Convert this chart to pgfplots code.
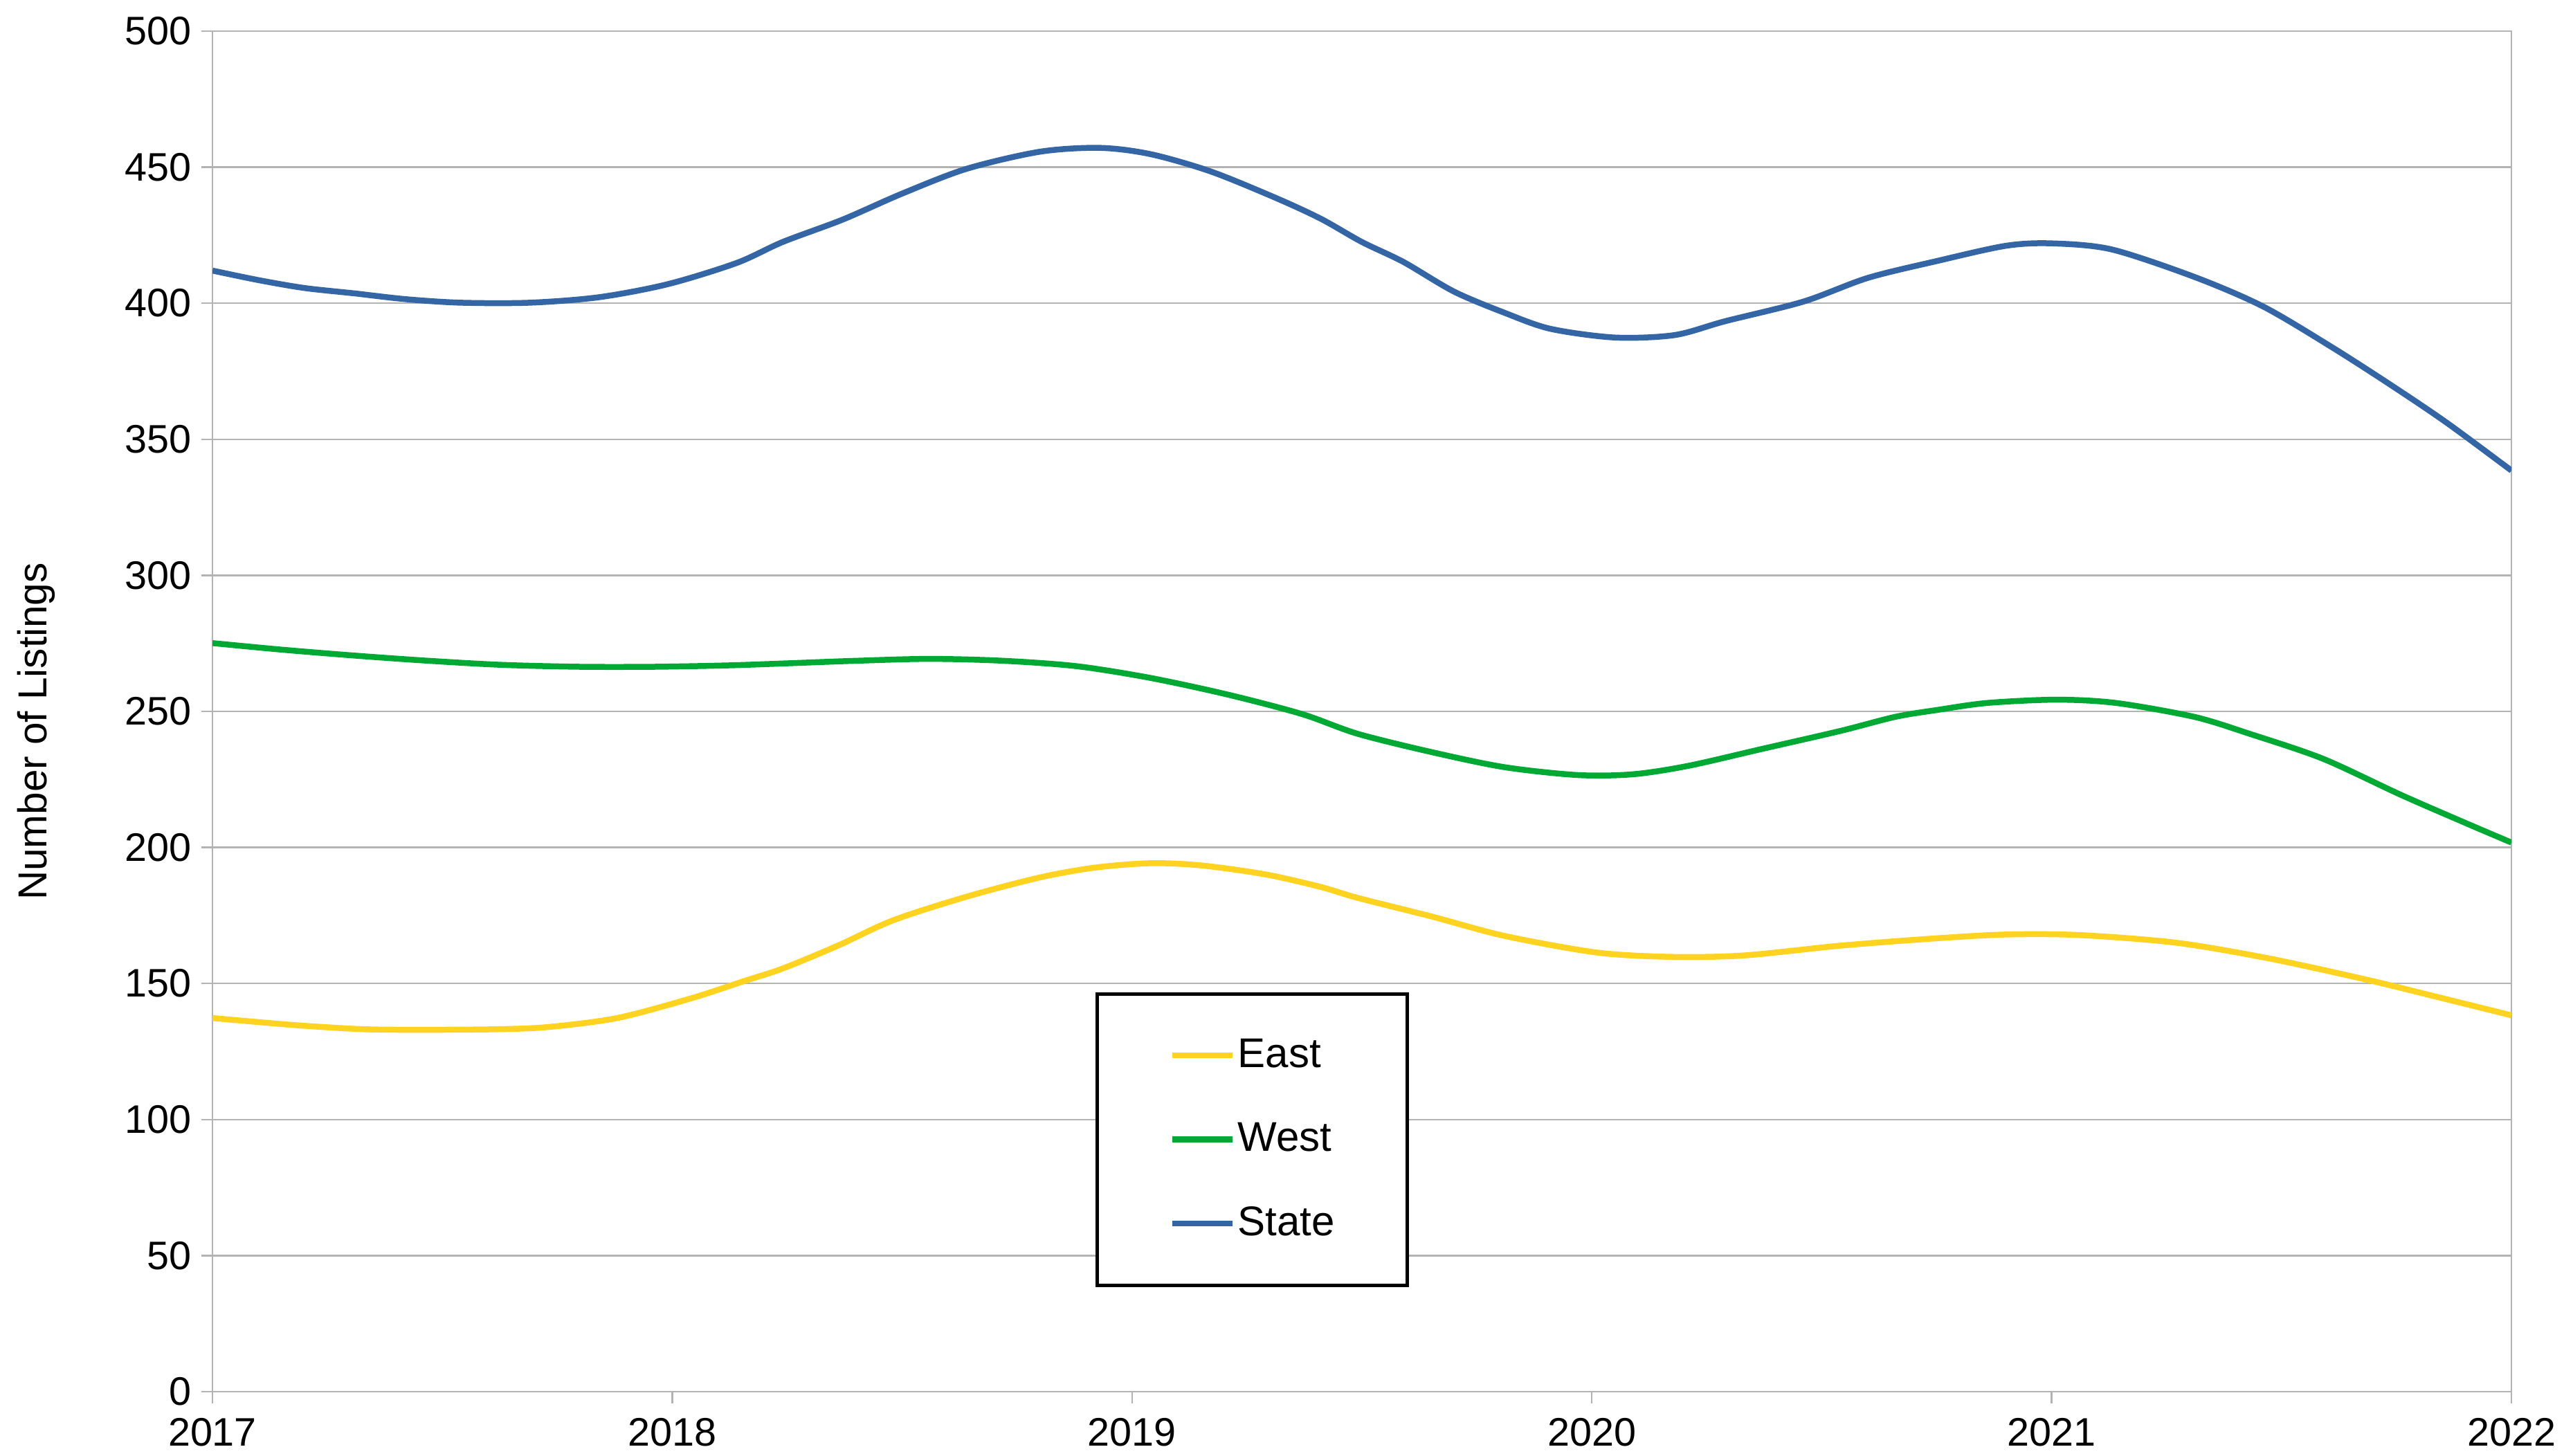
\documentclass[border=0pt]{standalone}
\usepackage{pgfplots}
\pgfplotsset{compat=1.18}
\usepackage{fontspec}
\setmainfont{Liberation Sans}
\definecolor{eastc}{HTML}{FFD320}
\definecolor{westc}{HTML}{00A933}
\definecolor{statec}{HTML}{3465A4}
\definecolor{gridc}{HTML}{B3B3B3}
\begin{document}
\begin{tikzpicture}
\useasboundingbox (0,0) rectangle (743.6pt,420.6pt);
\begin{axis}[
  at={(61.4pt,18.4pt)}, anchor=south west,
  scale only axis, width=664.4pt, height=393.2pt,
  xmin=2017, xmax=2022, ymin=0, ymax=500,
  xtick={2017,2018,2019,2020,2021,2022},
  ytick={0,50,100,150,200,250,300,350,400,450,500},
  /pgf/number format/1000 sep={},
  /pgf/number format/assume math mode=true,
  tick label style={font=\fontsize{11.5}{13}\selectfont},
  xtick pos=bottom, ytick pos=left, tick align=outside, major tick length=3.3pt,
  tick style={color=gridc, line width=0.5pt},
  axis line style={color=gridc, line width=0.5pt},
  ymajorgrids, major grid style={color=gridc, line width=0.5pt},
  yticklabel style={inner sep=0pt, xshift=-2.7pt},
  xticklabel style={inner sep=0pt, yshift=-4.1pt},
  ylabel={Number of Listings},
  ylabel style={font=\fontsize{11.7}{13}\selectfont, at={(axis description cs:-0.0768,0.4852)}, anchor=center},
  legend style={at={(axis cs:2018.92,146.8)}, anchor=north west, draw=black, line width=1pt, fill=white,
    inner xsep=20.9pt, inner ysep=12.9pt, row sep=14.5pt, column sep=0.7pt,
    font=\fontsize{12}{14}\selectfont, nodes={inner sep=0pt}},
  legend cell align=left,
  legend image code/.code={\draw[#1] (0pt,0pt) -- (17.4pt,0pt);},
  every axis plot/.append style={line width=1.7pt, line join=round, smooth, tension=0.5},
]
\addplot[color=eastc] table {
2017.00 137.3
2017.18 134.7
2017.33 133.2
2017.47 133.0
2017.62 133.2
2017.73 134.0
2017.88 137.3
2018.04 144.5
2018.16 151.1
2018.24 155.5
2018.36 163.9
2018.48 173.2
2018.64 181.9
2018.80 189.0
2018.92 192.6
2019.04 194.2
2019.15 193.4
2019.29 190.1
2019.41 185.5
2019.49 181.5
2019.65 174.7
2019.81 167.5
2020.01 161.4
2020.17 159.8
2020.33 160.3
2020.54 163.9
2020.74 166.5
2020.90 168.0
2021.06 167.8
2021.27 165.0
2021.47 159.3
2021.68 151.6
2021.84 145.0
2022.00 138.3
};
\addlegendentry{East}
\addplot[color=westc] table {
2017.00 275.1
2017.15 272.7
2017.31 270.5
2017.47 268.6
2017.63 267.1
2017.80 266.4
2017.96 266.4
2018.12 266.9
2018.24 267.6
2018.40 268.6
2018.56 269.3
2018.72 268.6
2018.88 266.6
2019.04 262.3
2019.21 256.1
2019.37 249.0
2019.49 241.8
2019.65 235.1
2019.81 229.5
2019.97 226.6
2020.09 226.9
2020.21 230.0
2020.37 236.2
2020.54 242.8
2020.66 248.0
2020.75 250.5
2020.86 253.1
2021.01 254.3
2021.14 253.1
2021.31 248.0
2021.43 241.8
2021.59 232.6
2021.76 219.3
2021.90 209.0
2022.00 201.8
};
\addlegendentry{West}
\addplot[color=statec] table {
2017.00 412.0
2017.10 408.5
2017.20 405.6
2017.31 403.6
2017.42 401.5
2017.54 400.2
2017.69 400.2
2017.84 402.2
2017.99 407.0
2018.14 414.8
2018.24 422.5
2018.37 430.7
2018.50 440.3
2018.64 449.4
2018.80 455.7
2018.93 457.1
2019.04 454.8
2019.17 448.5
2019.31 438.9
2019.41 431.1
2019.50 422.5
2019.59 415.2
2019.70 404.3
2019.81 396.5
2019.91 390.6
2020.05 387.4
2020.18 388.3
2020.29 393.4
2020.46 400.6
2020.60 409.3
2020.75 415.5
2020.90 421.1
2021.00 422.0
2021.13 419.8
2021.31 409.7
2021.46 398.8
2021.61 383.8
2021.74 369.7
2021.86 356.0
2022.00 338.5
};
\addlegendentry{State}
\end{axis}
\end{tikzpicture}
\end{document}
